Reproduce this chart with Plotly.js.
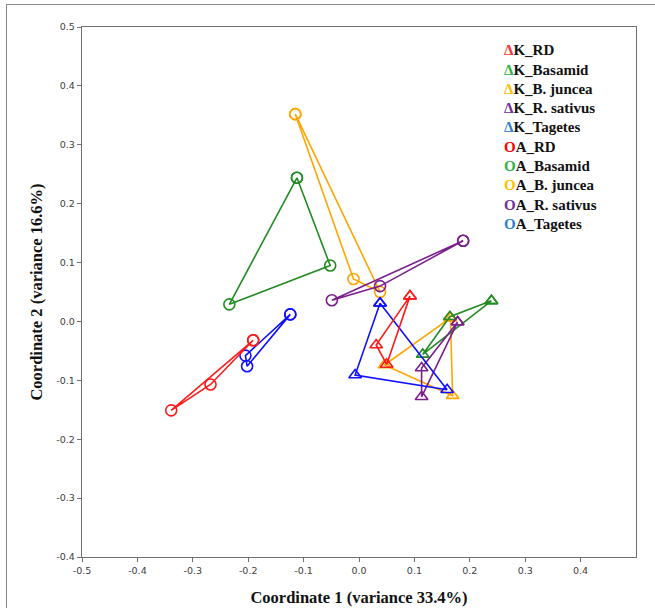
<!DOCTYPE html>
<html>
<head>
<meta charset="utf-8">
<script src="https://cdn.plot.ly/plotly-3.0.1.min.js"></script>
<style>
  html, body { margin:0; padding:0; background:#fff; overflow:hidden; }
  #chart { width:655px; height:608px; }
  #frame { position:absolute; left:6px; top:4px; width:720px; height:720px; border:1.5px solid #8a8a8a; pointer-events:none; }
</style>
</head>
<body>
<div id="chart"></div>
<div id="frame"></div>
<script>
// Series names (legend order)
const seriesNames = ["K_RD","K_Basamid","K_B. juncea","K_R. sativus","K_Tagetes",
                     "A_RD","A_Basamid","A_B. juncea","A_R. sativus","A_Tagetes"];
const seriesColors = ["#ff1a1a","#228b22","#ffa500","#7b1f8f","#1010ff",
                      "#ff1a1a","#228b22","#ffa500","#7b1f8f","#1010ff"];
const legendColors = ["#ff3333","#2db34a","#ffc000","#7030a0","#2e7fd0",
                      "#ff0000","#2db34a","#ffc000","#7030a0","#2e7fd0"];

// K_ groups (triangles)
const kRD_x = [0.092, 0.031, 0.050];       const kRD_y = [0.043, -0.040, -0.073];
const kBasamid_x = [0.239, 0.164, 0.115];  const kBasamid_y = [0.035, 0.008, -0.056];
const kJuncea_x = [0.165, 0.169, 0.046];   const kJuncea_y = [0.006, -0.126, -0.074];
const kSativus_x = [0.178, 0.113, 0.113];  const kSativus_y = [-0.001, -0.079, -0.128];
const kTagetes_x = [0.038, -0.007, 0.159]; const kTagetes_y = [0.031, -0.091, -0.116];

// A_ groups (circles)
const aRD_x = [-0.191, -0.268, -0.339];      const aRD_y = [-0.032, -0.107, -0.151];
const aBasamid_x = [-0.112, -0.052, -0.234]; const aBasamid_y = [0.244, 0.095, 0.029];
const aJuncea_x = [-0.115, -0.010, 0.038];   const aJuncea_y = [0.352, 0.072, 0.050];
const aSativus_x = [0.188, 0.038, -0.049];   const aSativus_y = [0.137, 0.060, 0.036];
const aTagetes_x = [-0.124, -0.205, -0.202]; const aTagetes_y = [0.012, -0.058, -0.076];

// Axis ticks
const xTicks = [-0.5,-0.4,-0.3,-0.2,-0.1,0.0,0.1,0.2,0.3,0.4];
const xTickText = ["-0.5","-0.4","-0.3","-0.2","-0.1","0.0","0.1","0.2","0.3","0.4"];
const yTicks = [-0.4,-0.3,-0.2,-0.1,0.0,0.1,0.2,0.3,0.4,0.5];
const yTickText = ["-0.4","-0.3","-0.2","-0.1","0.0","0.1","0.2","0.3","0.4","0.5"];

const groupsX = [kRD_x,kBasamid_x,kJuncea_x,kSativus_x,kTagetes_x,aRD_x,aBasamid_x,aJuncea_x,aSativus_x,aTagetes_x];
const groupsY = [kRD_y,kBasamid_y,kJuncea_y,kSativus_y,kTagetes_y,aRD_y,aBasamid_y,aJuncea_y,aSativus_y,aTagetes_y];

// draw order: juncea first so red sits above where they overlap
const drawOrder = [7,6,9,5,8,2,1,3,4,0];
const traces = drawOrder.map(i => {
  const xs = groupsX[i].concat([groupsX[i][0]]);
  const ys = groupsY[i].concat([groupsY[i][0]]);
  const isK = i < 5;
  return {
    x: xs, y: ys, type:'scatter', mode:'lines+markers', name: seriesNames[i],
    line: {color: seriesColors[i], width: 1.6},
    marker: {symbol: isK ? 'triangle-up-open' : 'circle-open', size: 11,
             color: seriesColors[i], line:{width:1.6, color: seriesColors[i]}},
    showlegend:false, hoverinfo:'x+y+name'
  };
});

// Legend as text annotations
const L = 81.5, R = 636, T = 26.7, B = 556.7;
const legendTop = 50, legendStep = 19.3, legendLeft = 502;
const annotations = seriesNames.map((n,i) => {
  const sym = i < 5 ? 'Δ' : 'O';
  return {
    xref:'paper', yref:'paper',
    x: (legendLeft - L)/(R - L), y: (B - (legendTop + i*legendStep))/(B - T),
    xanchor:'left', yanchor:'middle', showarrow:false, align:'left',
    text: '<span style="color:'+legendColors[i]+'">'+sym+'</span>'+n,
    font:{family:'"Liberation Serif", "Times New Roman", serif', size:15, color:'#111', weight:'bold'}
  };
});

const axisCommon = {
  showgrid:false, zeroline:false, showline:true, linecolor:'#707070', linewidth:1.2,
  mirror:true, ticks:'outside', ticklen:4, tickcolor:'#707070', tickwidth:1,
  tickfont:{family:'"DejaVu Sans", "Open Sans", sans-serif', size:9.5, color:'#404040'}
};

const layout = {
  width:655, height:608,
  margin:{l:81.5, r:19, t:26.7, b:51.3},
  paper_bgcolor:'#fff', plot_bgcolor:'#fff',
  xaxis: Object.assign({}, axisCommon, {
    range:[-0.5,0.5], tickvals:xTicks, ticktext:xTickText,
    title:{text:'<b>Coordinate 1 (variance 33.4%)</b>', standoff:16,
      font:{family:'"Liberation Serif", "Times New Roman", serif', size:16.5, color:'#111'}}
  }),
  yaxis: Object.assign({}, axisCommon, {
    range:[-0.4,0.5], tickvals:yTicks, ticktext:yTickText,
    title:{text:'<b>Coordinate 2 (variance 16.6%)</b>', standoff:9,
      font:{family:'"Liberation Serif", "Times New Roman", serif', size:16.5, color:'#111'}}
  }),
  annotations: annotations,
  showlegend:false
};

Plotly.newPlot('chart', traces, layout, {displayModeBar:false, staticPlot:true});
</script>
</body>
</html>
